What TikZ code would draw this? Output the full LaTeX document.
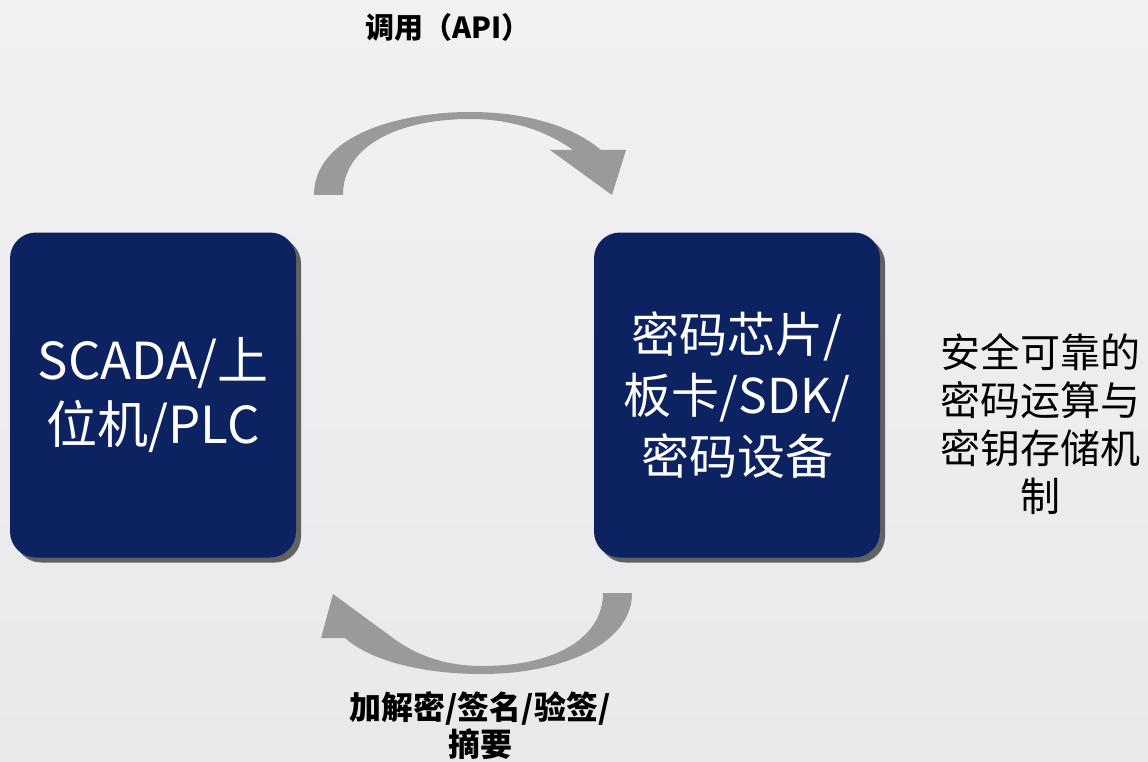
\documentclass[tikz,border=0pt]{standalone}
\usepackage{fontspec}
\setmainfont{Noto Sans CJK SC}
\usetikzlibrary{shadows}
\definecolor{bgtop}{HTML}{F1F0F2}
\definecolor{bgbot}{HTML}{E9E9EC}
\definecolor{boxblue}{HTML}{0C2261}
\definecolor{arrowgray}{HTML}{9A9A9A}
\tikzset{
  bluebox/.style={draw=none, fill=boxblue, rounded corners=26pt, minimum width=286pt, minimum height=325pt,
    text=white, align=center, inner sep=0pt,
    drop shadow={shadow xshift=5pt, shadow yshift=-5pt, fill=black!62, opacity=1}},
  curvearrow/.style={fill=arrowgray, draw=none},
  toplabel/.style={font=\bfseries\fontsize{29}{36}\selectfont, align=center, inner sep=0pt},
  botlabel/.style={font=\bfseries\fontsize{32}{37}\selectfont, align=center, inner sep=0pt},
  sidelabel/.style={font=\fontsize{40}{48}\selectfont, align=center, inner sep=0pt}
}
\begin{document}
\begin{tikzpicture}[x=1pt,y=-1pt]
\shade[top color=bgtop, bottom color=bgbot] (0,0) rectangle (1148,762);
\useasboundingbox (0,0) rectangle (1148,762);
% boxes
\node[bluebox, font=\fontsize{51}{64}\selectfont] (host) at (153,395) {SCADA/上\\位机/PLC};
\node[bluebox, font=\fontsize{48}{61}\selectfont] (crypto) at (737,395) {密码芯片/\\板卡/SDK/\\密码设备};
% top curved arrow
\fill[curvearrow] (314,195) .. controls (314,135) and (400,112) .. (470,112)
  .. controls (530,112) and (575,128) .. (601,150)
  -- (626,150) -- (612,195) -- (550,150) -- (573,150)
  .. controls (545,130) and (510,119) .. (470,119)
  .. controls (400,119) and (343,145) .. (343,195) -- cycle;
% bottom curved arrow
\fill[curvearrow] (632,593) .. controls (632,645) and (560,674) .. (482,674)
  .. controls (420,674) and (370,660) .. (345,638)
  -- (321,638) -- (333,594) -- (393,638)
  .. controls (420,658) and (450,666) .. (482,666)
  .. controls (560,666) and (603,635) .. (603,593) -- cycle;
% labels
\node[toplabel] (api) at (448,27) {调用（API）};
\node[botlabel] (ops) at (480,726) {加解密/签名/验签/\\摘要};
\node[sidelabel] (secure) at (1040,424) {安全可靠的\\密码运算与\\密钥存储机\\制};
\end{tikzpicture}
\end{document}
